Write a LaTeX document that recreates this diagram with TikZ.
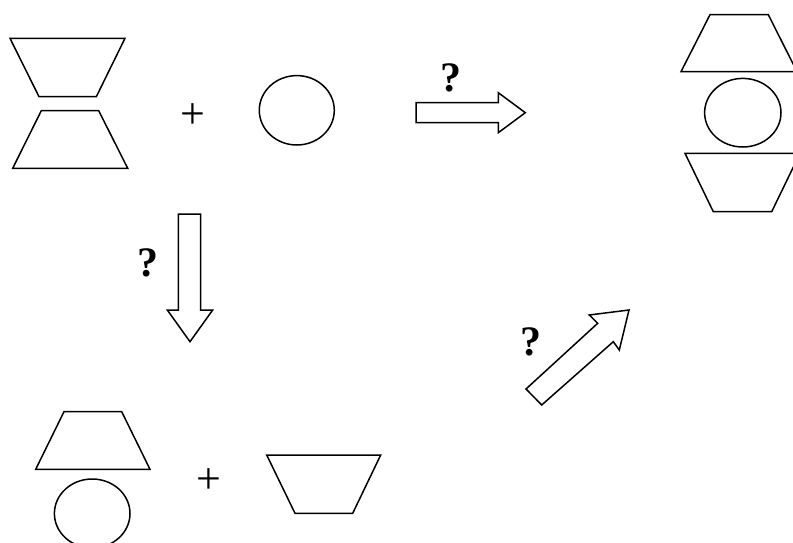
\documentclass[tikz,border=0pt]{standalone}
\usepackage{fontspec}
\setmainfont{Liberation Serif}
\begin{document}
\begin{tikzpicture}[x=1pt,y=-1pt,
  shape line/.style={draw=black,line width=1.5pt,line join=miter,fill=white},
  qmark/.style={font=\fontsize{42}{42}\selectfont\bfseries,inner sep=0pt},
  plusmark/.style={font=\fontsize{44}{44}\selectfont,inner sep=0pt}]
\useasboundingbox (0,0) rectangle (793,543);
% top-left group
\draw[shape line] (10,38.3) -- (125,38.3) -- (96.3,96.7) -- (39,96.7) -- cycle;
\draw[shape line] (41.3,110.7) -- (98.7,110.7) -- (127.7,168.3) -- (12.7,168.3) -- cycle;
\node[plusmark] (plus1) at (192.7,116) {+};
\draw[shape line] (296.8,110.3) ellipse [x radius=37.5, y radius=34.7];
% right arrow
\draw[shape line] (416,102.7) -- (498.3,102.7) -- (498.3,92.7) -- (525.3,112.7) -- (498.3,132.7) -- (498.3,122.7) -- (416,122.7) -- cycle;
\node[qmark] (q1) at (450.7,78.3) {?};
% right stack
\draw[shape line] (710,14.7) -- (768.3,14.7) -- (797,71.7) -- (681,71.7) -- cycle;
\draw[shape line] (742.8,112.7) ellipse [x radius=38.2, y radius=34.3];
\draw[shape line] (685,153.3) -- (800,153.3) -- (771.7,211.7) -- (713.3,211.7) -- cycle;
% down arrow
\draw[shape line] (178.3,214) -- (200.7,214) -- (200.7,310) -- (212.7,310) -- (190,341.7) -- (167.3,310) -- (178.3,310) -- cycle;
\node[qmark] (q2) at (148.3,263.3) {?};
% diagonal arrow
\draw[shape line] (526,389) -- (597.7,323.3) -- (589.3,315) -- (629,310) -- (619.3,350) -- (613.3,341.7) -- (541.7,405) -- cycle;
\node[qmark] (q3) at (531,341.7) {?};
% bottom group
\draw[shape line] (64,411.7) -- (121.7,411.7) -- (150,469.3) -- (35.7,469.3) -- cycle;
\draw[shape line] (92.2,513.5) ellipse [x radius=37.8, y radius=34.5];
\node[plusmark] (plus2) at (209.3,481.3) {+};
\draw[shape line] (266.7,455) -- (380.7,455) -- (352.7,513.3) -- (295,513.3) -- cycle;
\end{tikzpicture}
\end{document}
